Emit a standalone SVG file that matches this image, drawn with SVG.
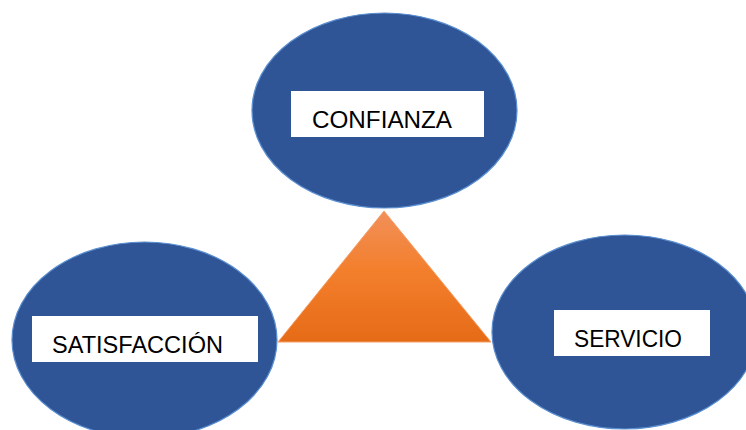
<svg xmlns="http://www.w3.org/2000/svg" width="746" height="430" viewBox="0 0 746 430">
  <defs>
    <linearGradient id="tri" x1="0" y1="0" x2="0" y2="1">
      <stop offset="0" stop-color="#F1905A"/>
      <stop offset="0.45" stop-color="#F37F2C"/>
      <stop offset="1" stop-color="#E66B17"/>
    </linearGradient>
  </defs>
  <style>
    .node { fill: #2F5597; stroke: #5B8FD0; stroke-width: 1.2; }
    .box { fill: #FFFFFF; }
    .lbl { font-family: "Liberation Sans", Arial, sans-serif; font-size: 24px; fill: #000000; }
  </style>
  <rect width="746" height="430" fill="#FFFFFF"/>
  <g id="connectors">
    <polygon points="384,211 491,342 278,342" fill="url(#tri)" stroke="#F4A06A" stroke-width="1"/>
  </g>
  <g id="confianza">
    <ellipse class="node" cx="384.5" cy="110.5" rx="132.5" ry="97.5"/>
    <rect class="box" x="291" y="91" width="193" height="46"/>
    <text class="lbl" x="312" y="128" textLength="140" lengthAdjust="spacingAndGlyphs">CONFIANZA</text>
  </g>
  <g id="satisfaccion">
    <ellipse class="node" cx="144.5" cy="340" rx="132.5" ry="98"/>
    <rect class="box" x="32" y="316" width="226" height="46"/>
    <text class="lbl" x="52" y="353" textLength="171" lengthAdjust="spacingAndGlyphs">SATISFACCIÓN</text>
  </g>
  <g id="servicio">
    <ellipse class="node" cx="624.5" cy="332" rx="132.5" ry="97"/>
    <rect class="box" x="554" y="310" width="156" height="46"/>
    <text class="lbl" x="574" y="347" textLength="108" lengthAdjust="spacingAndGlyphs">SERVICIO</text>
  </g>
</svg>
